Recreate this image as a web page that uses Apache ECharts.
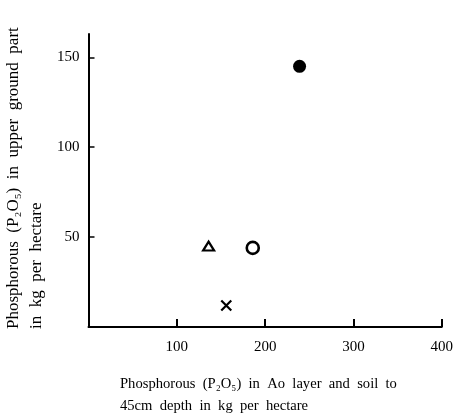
<!DOCTYPE html>
<html><head><meta charset="utf-8">
<script src="https://cdn.jsdelivr.net/npm/echarts@6/dist/echarts.min.js"></script>
<style>html,body{margin:0;padding:0;background:#fff}#c{width:456px;height:417px}</style>
</head><body><div id="c"></div>
<script>
// Data
const filledCircle = [[239, 145]];
const openCircle = [[186, 44]];
const openTriangle = [[136, 45]];
const cross = [[156, 12]];
const xTicks = [100, 200, 300, 400];
const yTicks = [50, 100, 150];
const xTitle = ['Phosphorous  (P\u2082O\u2085)  in  A\u03bf  layer  and  soil  to', '45cm  depth  in  kg  per  hectare'];
const yTitle = ['Phosphorous  (P\u2082O\u2085)  in  upper  ground  part', 'in  kg  per  hectare'];

const serif = '"Liberation Serif","DejaVu Serif",serif';
const chart = echarts.init(document.getElementById('c'));
chart.setOption({
  animation: false,
  backgroundColor: '#fff',
  grid: {left: 88.5, right: 10, top: 34, bottom: 90},
  xAxis: {
    type: 'value', min: 0, max: 400, interval: 100,
    splitLine: {show: false},
    axisLine: {lineStyle: {color: '#000', width: 2}},
    axisTick: {inside: true, length: 8, lineStyle: {color: '#000', width: 2}, customValues: xTicks},
    axisLabel: {color: '#000', fontFamily: serif, fontSize: 15, margin: 13, customValues: xTicks}
  },
  yAxis: {
    type: 'value', min: 0, max: 163, interval: 50,
    splitLine: {show: false},
    axisLine: {lineStyle: {color: '#000', width: 2}},
    axisTick: {inside: true, length: 6, lineStyle: {color: '#000', width: 1.5}, customValues: yTicks},
    axisLabel: {color: '#000', fontFamily: serif, fontSize: 15, margin: 9, customValues: yTicks}
  },
  graphic: [
    {type: 'text', x: 120, y: 384, style: {text: xTitle[0], font: '14.6px ' + serif, fill: '#000', textVerticalAlign: 'middle'}},
    {type: 'text', x: 120, y: 406, style: {text: xTitle[1], font: '14.6px ' + serif, fill: '#000', textVerticalAlign: 'middle'}},
    {type: 'text', x: 14, y: 329, rotation: Math.PI / 2, style: {text: yTitle[0], font: '17px ' + serif, fill: '#000', textAlign: 'left', textVerticalAlign: 'middle'}},
    {type: 'text', x: 37, y: 329, rotation: Math.PI / 2, style: {text: yTitle[1], font: '17px ' + serif, fill: '#000', textAlign: 'left', textVerticalAlign: 'middle'}}
  ],
  series: [
    {type: 'scatter', data: filledCircle, symbol: 'circle', symbolSize: 13, itemStyle: {color: '#000', opacity: 1}},
    {type: 'scatter', data: openCircle, symbol: 'circle', symbolSize: 12, itemStyle: {color: '#fff', borderColor: '#000', borderWidth: 2.6, opacity: 1}},
    {type: 'scatter', data: openTriangle, symbol: 'triangle', symbolSize: [11, 9], itemStyle: {color: '#fff', borderColor: '#000', borderWidth: 2.2, opacity: 1}},
    {type: 'scatter', data: cross, symbol: 'path://M0,0L10,10M10,0L0,10', symbolSize: 10, itemStyle: {color: 'none', borderColor: '#000', borderWidth: 2.2, opacity: 1}}
  ]
});
</script></body></html>
